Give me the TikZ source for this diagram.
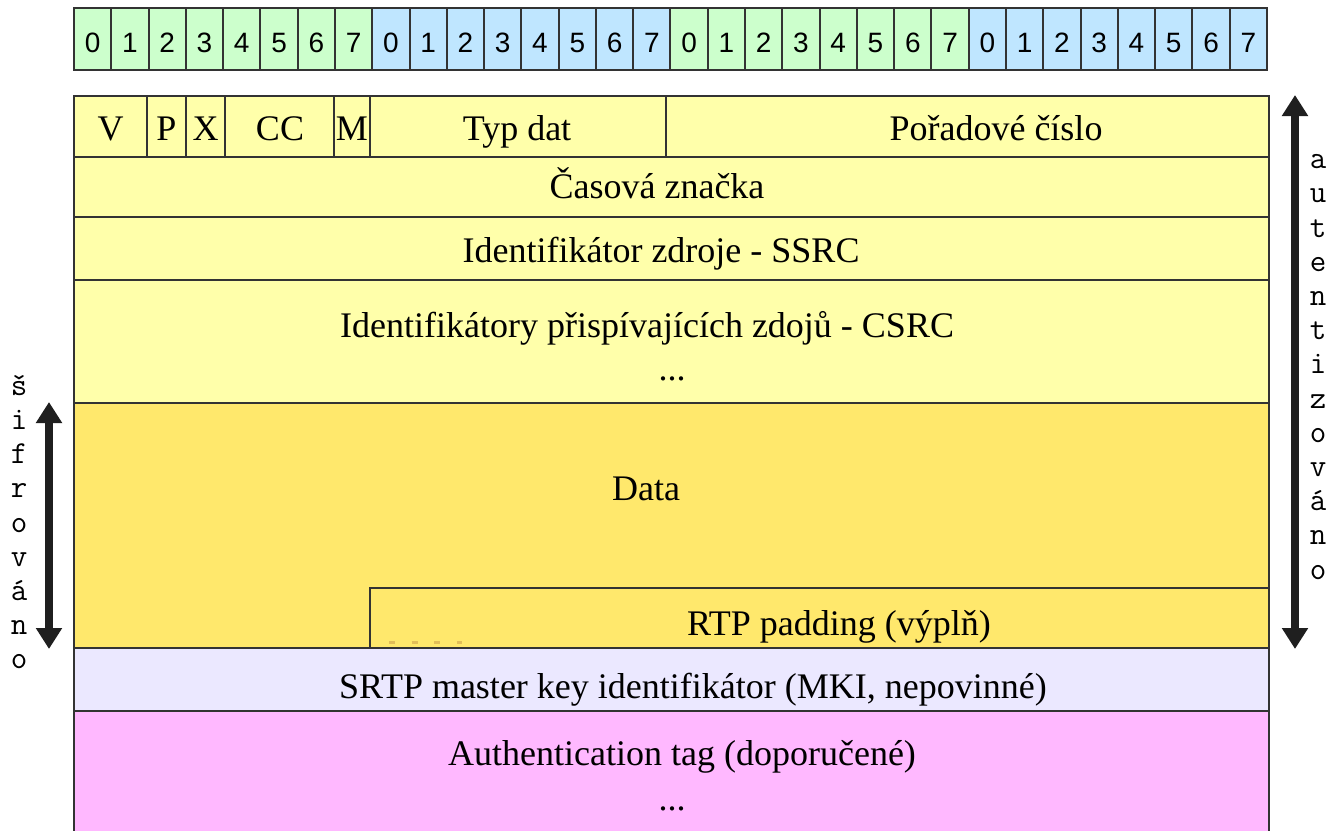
\documentclass[tikz,border=0pt]{standalone}
\usepackage{fontspec}
\setmainfont{Liberation Serif}
\newfontfamily\bitfont{Liberation Sans}
\usepackage{xcolor}
\usepackage{tikz}
\usetikzlibrary{fit, arrows.meta}
\definecolor{bitgreen}{HTML}{CCFFCC}
\definecolor{bitblue}{HTML}{BFE6FF}
\definecolor{hdryellow}{HTML}{FFFFAA}
\definecolor{datayellow}{HTML}{FFE86C}
\definecolor{mkiblue}{HTML}{EBE8FF}
\definecolor{tagpink}{HTML}{FFB8FF}
\definecolor{gridline}{HTML}{333333}
\definecolor{padmark}{HTML}{E2BE58}
\tikzstyle{bitcell}   = [rectangle, draw=gridline, line width=1pt, minimum width=18.64pt, minimum height=31pt, inner sep=0pt, text height=13pt, text depth=0pt, font=\bitfont\fontsize{14}{16}\selectfont]
\tikzstyle{field}     = [rectangle, draw=gridline, line width=1pt, inner sep=0pt]
\tikzstyle{fieldtext} = [anchor=base, inner sep=0pt, font=\fontsize{18}{21.5}\selectfont]
\tikzstyle{sidetext}  = [align=center, inner sep=0pt, font=\ttfamily\fontsize{16}{17.1}\selectfont]
\tikzstyle{arrow}     = [line width=4pt, draw=black!88, <->, >={Triangle[length=10.5pt, width=12.5pt]}]
\tikzstyle{padmarks}  = [draw=padmark, line width=1.5pt, dash pattern=on 3pt off 8.25pt]

\begin{document}
\begin{tikzpicture}[x=0.5pt, y=-0.5pt]
    \useasboundingbox (0,0) rectangle (1333,830);
    \clip (0,0) rectangle (1333,830);

    \foreach \byte/\col in {0/bitgreen, 1/bitblue, 2/bitgreen, 3/bitblue}
      \foreach \bit in {0,...,7}
        \node (b\byte\bit) [bitcell, fill=\col] at ({74+(8*\byte+\bit+0.5)*37.28}, 39) {\bit};

    \node (ver)  [field, fill=hdryellow, fit={(74,96) (147,157)}] {};
    \node (pad)  [field, fill=hdryellow, fit={(147,96) (186,157)}] {};
    \node (ext)  [field, fill=hdryellow, fit={(186,96) (225,157)}] {};
    \node (cc)   [field, fill=hdryellow, fit={(225,96) (334,157)}] {};
    \node (mrk)  [field, fill=hdryellow, fit={(334,96) (370,157)}] {};
    \node (pt)   [field, fill=hdryellow, fit={(370,96) (666,157)}] {};
    \node (seq)  [field, fill=hdryellow, fit={(666,96) (1269,157)}] {};
    \node (ts)   [field, fill=hdryellow, fit={(74,157) (1269,217)}] {};
    \node (ssrc) [field, fill=hdryellow, fit={(74,217) (1269,280)}] {};
    \node (csrc) [field, fill=hdryellow, fit={(74,280) (1269,403)}] {};
    \node (data) [field, fill=datayellow, fit={(74,403) (1269,648)}] {};
    \node (rtppad) [field, fill=datayellow, fit={(370,588) (1269,648)}] {};
    \node (mki)  [field, fill=mkiblue, fit={(74,648) (1269,711)}] {};
    \node (tag)  [field, fill=tagpink, fit={(74,711) (1269,845)}] {};

    \node (vertext) [fieldtext] at (110.5,140) {V};
    \node (padtext) [fieldtext] at (166.5,140) {P};
    \node (exttext) [fieldtext] at (205.5,140) {X};
    \node (cctext)  [fieldtext] at (280,140) {CC};
    \node (mrktext) [fieldtext] at (352,140) {M};
    \node (pttext)  [fieldtext] at (517,140) {Typ dat};
    \node (seqtext) [fieldtext] at (996,140) {Pořadové číslo};
    \node (tstext)  [fieldtext] at (657,198) {Časová značka};
    \node (ssrctext) [fieldtext] at (661,262) {Identifikátor zdroje - SSRC};
    \node (csrctext) [fieldtext] at (647,337) {Identifikátory přispívajících zdojů - CSRC};
    \node (csrcdots) [fieldtext] at (672,380) {...};
    \node (datatext) [fieldtext] at (646,500) {Data};
    \node (rtppadtext) [fieldtext] at (839,635) {RTP padding (výplň)};
    \node (mkitext) [fieldtext] at (693,698) {SRTP master key identifikátor (MKI, nepovinné)};
    \node (tagtext) [fieldtext] at (682,765) {Authentication tag (doporučené)};
    \node (tagdots) [fieldtext] at (672,810) {...};

    \draw [padmarks] ([xshift=10pt, yshift=3.5pt]rtppad.south west) -- ([xshift=46.5pt, yshift=3.5pt]rtppad.south west);

    \draw [arrow] ([xshift=-12pt]data.north west) -- ([xshift=-12pt]data.south west);
    \draw [arrow] ([xshift=12.5pt]seq.north east) -- ([xshift=12.5pt]rtppad.south east);

    \node (encr) [sidetext] at (19,522) {š\\i\\f\\r\\o\\v\\á\\n\\o};
    \node (auth) [sidetext] at (1318,367) {a\\u\\t\\e\\n\\t\\i\\z\\o\\v\\á\\n\\o};
\end{tikzpicture}
\end{document}
